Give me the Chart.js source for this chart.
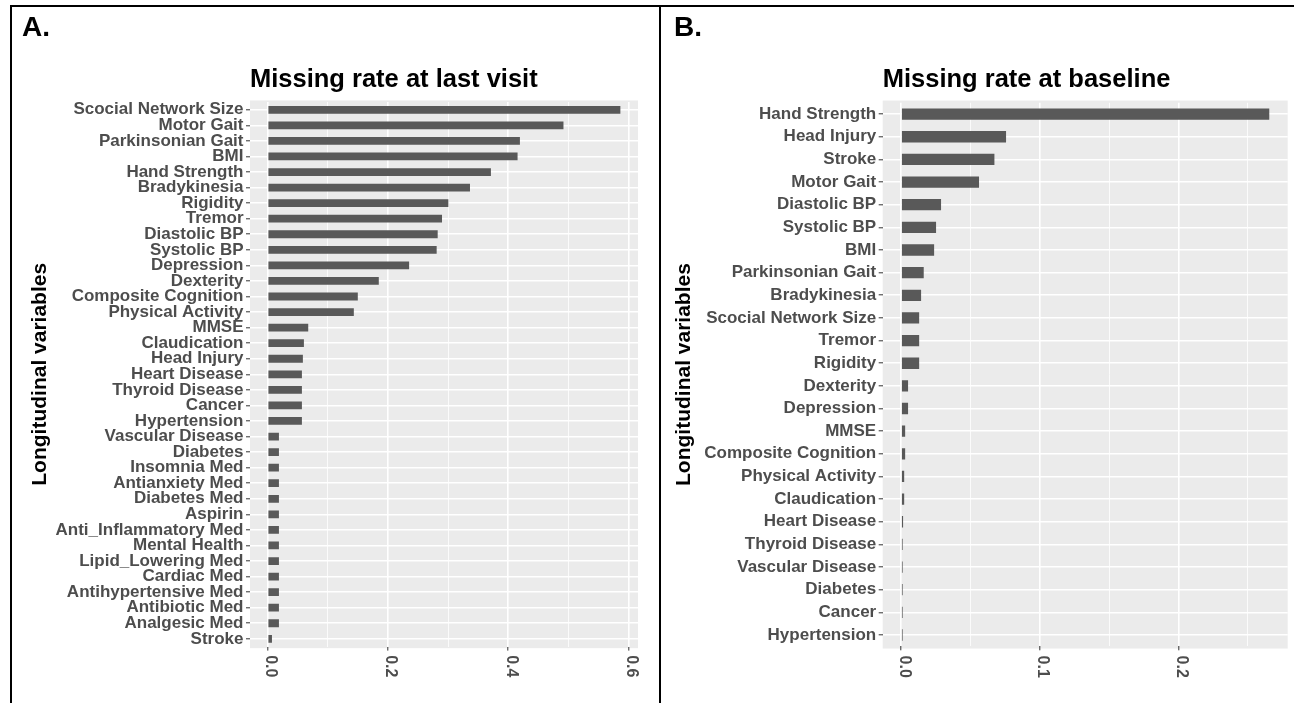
<!DOCTYPE html>
<html>
<head>
<meta charset="utf-8">
<script src="https://cdn.jsdelivr.net/npm/chart.js@4.4.1/dist/chart.umd.min.js"></script>
<style>
  html, body { margin: 0; padding: 0; background: #fff; }
  #wrap { position: relative; width: 1294px; height: 703px; overflow: hidden; }
  canvas { position: absolute; top: 0; }
  .line { position: absolute; background: #000; }
</style>
</head>
<body>
<div id="wrap">
  <canvas id="chartA" width="660" height="703" style="left:0"></canvas>
  <canvas id="chartB" width="634" height="703" style="left:660px"></canvas>
  <div class="line" style="left:10px;top:5px;width:1284px;height:2px"></div>
  <div class="line" style="left:10px;top:5px;width:2px;height:698px"></div>
  <div class="line" style="left:659px;top:5px;width:2px;height:698px"></div>
</div>
<script>
const FONT = "'Liberation Sans', Arial, Helvetica, sans-serif";

// A. missing rate at last visit (top to bottom)
const varsLast = [
  'Scocial Network Size', 'Motor Gait', 'Parkinsonian Gait', 'BMI', 'Hand Strength',
  'Bradykinesia', 'Rigidity', 'Tremor', 'Diastolic BP', 'Systolic BP',
  'Depression', 'Dexterity', 'Composite Cognition', 'Physical Activity', 'MMSE',
  'Claudication', 'Head Injury', 'Heart Disease', 'Thyroid Disease', 'Cancer',
  'Hypertension', 'Vascular Disease', 'Diabetes', 'Insomnia Med', 'Antianxiety Med',
  'Diabetes Med', 'Aspirin', 'Anti_Inflammatory Med', 'Mental Health', 'Lipid_Lowering Med',
  'Cardiac Med', 'Antihypertensive Med', 'Antibiotic Med', 'Analgesic Med', 'Stroke'
];
const rateLast = [
  0.5864, 0.4918, 0.4194, 0.4155, 0.3712,
  0.3364, 0.3004, 0.2899, 0.2827, 0.2810,
  0.2352, 0.1848, 0.1499, 0.1433, 0.0675,
  0.0603, 0.0586, 0.0570, 0.0570, 0.0570,
  0.0570, 0.0188, 0.0188, 0.0188, 0.0188,
  0.0188, 0.0188, 0.0188, 0.0188, 0.0188,
  0.0188, 0.0188, 0.0188, 0.0188, 0.0072
];
const xTicksLast = [0, 0.1, 0.2, 0.3, 0.4, 0.5, 0.6];
const xLabelsLast = ['0.0', '', '0.2', '', '0.4', '', '0.6'];

// B. missing rate at baseline (top to bottom)
const varsBase = [
  'Hand Strength', 'Head Injury', 'Stroke', 'Motor Gait', 'Diastolic BP',
  'Systolic BP', 'BMI', 'Parkinsonian Gait', 'Bradykinesia', 'Scocial Network Size',
  'Tremor', 'Rigidity', 'Dexterity', 'Depression', 'MMSE',
  'Composite Cognition', 'Physical Activity', 'Claudication', 'Heart Disease', 'Thyroid Disease',
  'Vascular Disease', 'Diabetes', 'Cancer', 'Hypertension'
];
const rateBase = [
  0.2656, 0.0757, 0.0673, 0.0562, 0.0288,
  0.0252, 0.0238, 0.0163, 0.0144, 0.0130,
  0.0130, 0.0130, 0.0050, 0.0050, 0.0029,
  0.0029, 0.0022, 0.0022, 0.0014, 0.0008,
  0.0008, 0.0008, 0.0008, 0.0008
];
const xTicksBase = [0, 0.05, 0.1, 0.15, 0.2, 0.25];
const xLabelsBase = ['0.0', '', '0.1', '', '0.2', ''];

// grey panel, a bit taller than the category range like ggplot
const panelBg = {
  id: 'panelBg',
  beforeDraw(chart) {
    const { ctx, chartArea: a } = chart;
    const ext = (a.bottom - a.top) / chart.data.labels.length * 0.1;
    ctx.save();
    ctx.fillStyle = '#EBEBEB';
    ctx.fillRect(a.left, a.top - ext, a.right - a.left, a.bottom - a.top + 2 * ext);
    ctx.restore();
  }
};

// x labels turned clockwise, plus the panel letter
const extras = {
  id: 'extras',
  afterDraw(chart, args, opts) {
    const { ctx, chartArea: a } = chart;
    const xs = chart.scales.x;
    const ext = (a.bottom - a.top) / chart.data.labels.length * 0.1;
    ctx.save();
    ctx.fillStyle = '#4D4D4D';
    ctx.font = 'bold 16px ' + FONT;
    ctx.textAlign = 'left';
    ctx.textBaseline = 'alphabetic';
    opts.ticks.forEach((v, i) => {
      const lab = opts.labels[i];
      if (!lab) return;
      ctx.save();
      ctx.translate(xs.getPixelForValue(v), a.bottom + ext + 7);
      ctx.rotate(Math.PI / 2);
      ctx.fillText(lab, 0, 1.5);
      ctx.restore();
    });
    ctx.fillStyle = '#000';
    ctx.font = 'bold 28px ' + FONT;
    ctx.fillText(opts.tag, opts.tagX, 36);
    ctx.restore();
  }
};

function makeChart(id, labels, values, ticks, tickLabels, cfg) {
  return new Chart(document.getElementById(id), {
    type: 'bar',
    data: {
      labels: labels,
      datasets: [{
        data: values,
        backgroundColor: '#595959',
        barPercentage: 0.5,
        categoryPercentage: 1,
        minBarLength: cfg.minBar
      }]
    },
    options: {
      indexAxis: 'y',
      responsive: false,
      animation: false,
      devicePixelRatio: 1,
      layout: { padding: { left: cfg.padLeft, right: cfg.padRight, top: 0, bottom: cfg.padBottom } },
      plugins: {
        legend: { display: false },
        tooltip: { enabled: false },
        title: {
          display: true,
          text: cfg.title,
          align: 'start',
          fullSize: false,
          color: '#000',
          font: { family: FONT, size: 25.5, weight: 'bold', lineHeight: 1.2 },
          padding: { top: 64.3, bottom: cfg.titleBottom }
        },
        extras: { ticks: ticks, labels: tickLabels, tag: cfg.tag, tagX: cfg.tagX }
      },
      scales: {
        x: {
          type: 'linear',
          min: cfg.min,
          max: cfg.max,
          afterBuildTicks: s => { s.ticks = ticks.map(v => ({ value: v })); },
          afterFit: s => { s.height = 40; },
          ticks: { display: false },
          border: { display: false },
          grid: {
            color: '#FFFFFF',
            lineWidth: c => tickLabels[c.index] ? 1.6 : 0.8,
            tickLength: 4,
            tickWidth: 1,
            tickColor: c => tickLabels[c.index] ? '#333333' : 'rgba(0,0,0,0)'
          }
        },
        y: {
          offset: true,
          afterFit: s => { s.width = cfg.yWidth; },
          border: { display: false },
          grid: {
            offset: false,
            color: '#FFFFFF',
            lineWidth: 1.6,
            tickLength: 4,
            tickWidth: 1,
            tickColor: '#333333'
          },
          ticks: {
            autoSkip: false,
            color: '#4D4D4D',
            padding: 2.5,
            font: { family: FONT, size: 17, weight: 'bold' }
          },
          title: {
            display: true,
            text: 'Longitudinal variables',
            color: '#000',
            padding: 0,
            font: { family: FONT, size: 21, weight: 'bold', lineHeight: 1.2 }
          }
        }
      }
    },
    plugins: [panelBg, extras]
  });
}

makeChart('chartA', varsLast, rateLast, xTicksLast, xLabelsLast, {
  title: 'Missing rate at last visit', tag: 'A.', tagX: 22,
  min: -0.0293, max: 0.6157, minBar: 0,
  padLeft: 27.4, padRight: 22, padBottom: 16.4, titleBottom: 7.1, yWidth: 222.6
});

makeChart('chartB', varsBase, rateBase, xTicksBase, xLabelsBase, {
  title: 'Missing rate at baseline', tag: 'B.', tagX: 14,
  min: -0.0133, max: 0.2789, minBar: 1.5,
  padLeft: 11.4, padRight: 6.3, padBottom: 16.7, titleBottom: 7.9, yWidth: 211.3
});
</script>
</body>
</html>
